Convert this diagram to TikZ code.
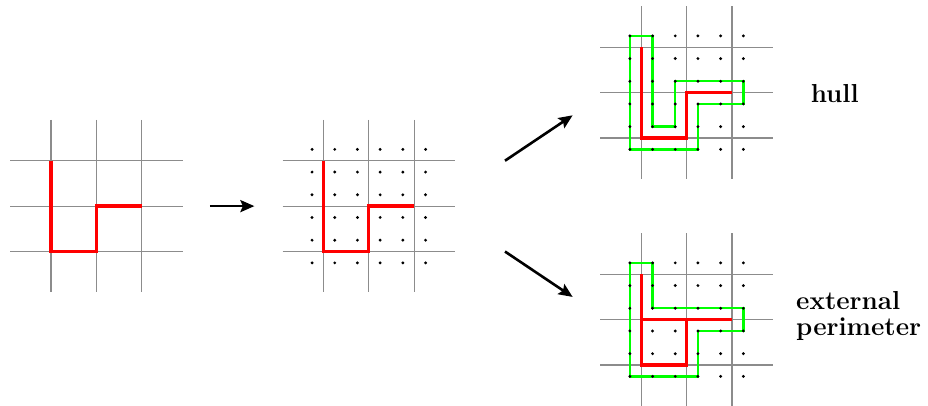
\documentclass[tikz,border=0pt]{standalone}
\usetikzlibrary{arrows.meta}
\begin{document}
\begin{tikzpicture}[x=45.4pt,y=-45.4pt,
  gridline/.style={draw=black!45,line width=1.1pt},
  redpath/.style={draw=red,line width=3.3pt,line join=miter},
  greenpath/.style={draw=green,line width=2.4pt},
  flow/.style={-{Stealth[length=14pt,width=12pt,inset=2.5pt]},line width=2.6pt},
  tagtext/.style={font=\fontsize{26}{26}\selectfont\bfseries,anchor=base west,inner sep=0pt},
  cellgrid/.pic={
    \foreach \i in {0,1,2}{
      \draw[gridline] (\i,-0.9) -- (\i,2.9);
      \draw[gridline] (-0.9,\i) -- (2.9,\i);
    }
  },
  dotgrid/.pic={
    \foreach \i in {-0.25,0.25,0.75,1.25,1.75,2.25}
      \foreach \j in {-0.25,0.25,0.75,1.25,1.75,2.25}
        \fill[black] (\i,\j) circle (1.6pt);
  }
]
\useasboundingbox (-1.123,-3.540) rectangle (19.317,5.381);

% left grid
\pic at (0,0) {cellgrid};
\draw[redpath] (0,0) -- (0,2) -- (1,2) -- (1,1) -- (2,1);

% middle grid
\begin{scope}[shift={(6,0)}]
  \pic at (0,0) {cellgrid};
  \draw[redpath] (0,0) -- (0,2) -- (1,2) -- (1,1) -- (2,1);
  \pic at (0,0) {dotgrid};
\end{scope}

% top right: hull
\begin{scope}[shift={(13,-2.5)}]
  \pic at (0,0) {cellgrid};
  \draw[greenpath] (-0.25,-0.25) -- (0.25,-0.25) -- (0.25,1.75) -- (0.75,1.75)
    -- (0.75,0.75) -- (2.25,0.75) -- (2.25,1.25) -- (1.25,1.25) -- (1.25,2.25)
    -- (-0.25,2.25) -- cycle;
  \draw[redpath] (0,0) -- (0,2) -- (1,2) -- (1,1) -- (2,1);
  \pic at (0,0) {dotgrid};
\end{scope}

% bottom right: external perimeter
\begin{scope}[shift={(13,2.5)}]
  \pic at (0,0) {cellgrid};
  \draw[greenpath] (-0.25,-0.25) -- (0.25,-0.25) -- (0.25,0.75) -- (2.25,0.75)
    -- (2.25,1.25) -- (1.25,1.25) -- (1.25,2.25) -- (-0.25,2.25) -- cycle;
  \draw[redpath] (0,0) -- (0,2) -- (1,2) -- (1,1) -- (2,1);
  \draw[redpath] (0,1) -- (1,1);
  \pic at (0,0) {dotgrid};
\end{scope}

% arrows
\coordinate (a1s) at (3.5,1);
\coordinate (a1e) at (4.48,1);
\coordinate (a2s) at (10,0);
\coordinate (a2e) at (11.49,-1.0);
\coordinate (a3s) at (10,2);
\coordinate (a3e) at (11.49,3.0);
\draw[flow] (a1s) -- (a1e);
\draw[flow] (a2s) -- (a2e);
\draw[flow] (a3s) -- (a3e);

% labels
\node[tagtext] (hull) at (16.73,-1.278) {hull};
\node[tagtext] (ext) at (16.41,3.273) {external};
\node[tagtext] (per) at (16.41,3.839) {perimeter};
\end{tikzpicture}
\end{document}
